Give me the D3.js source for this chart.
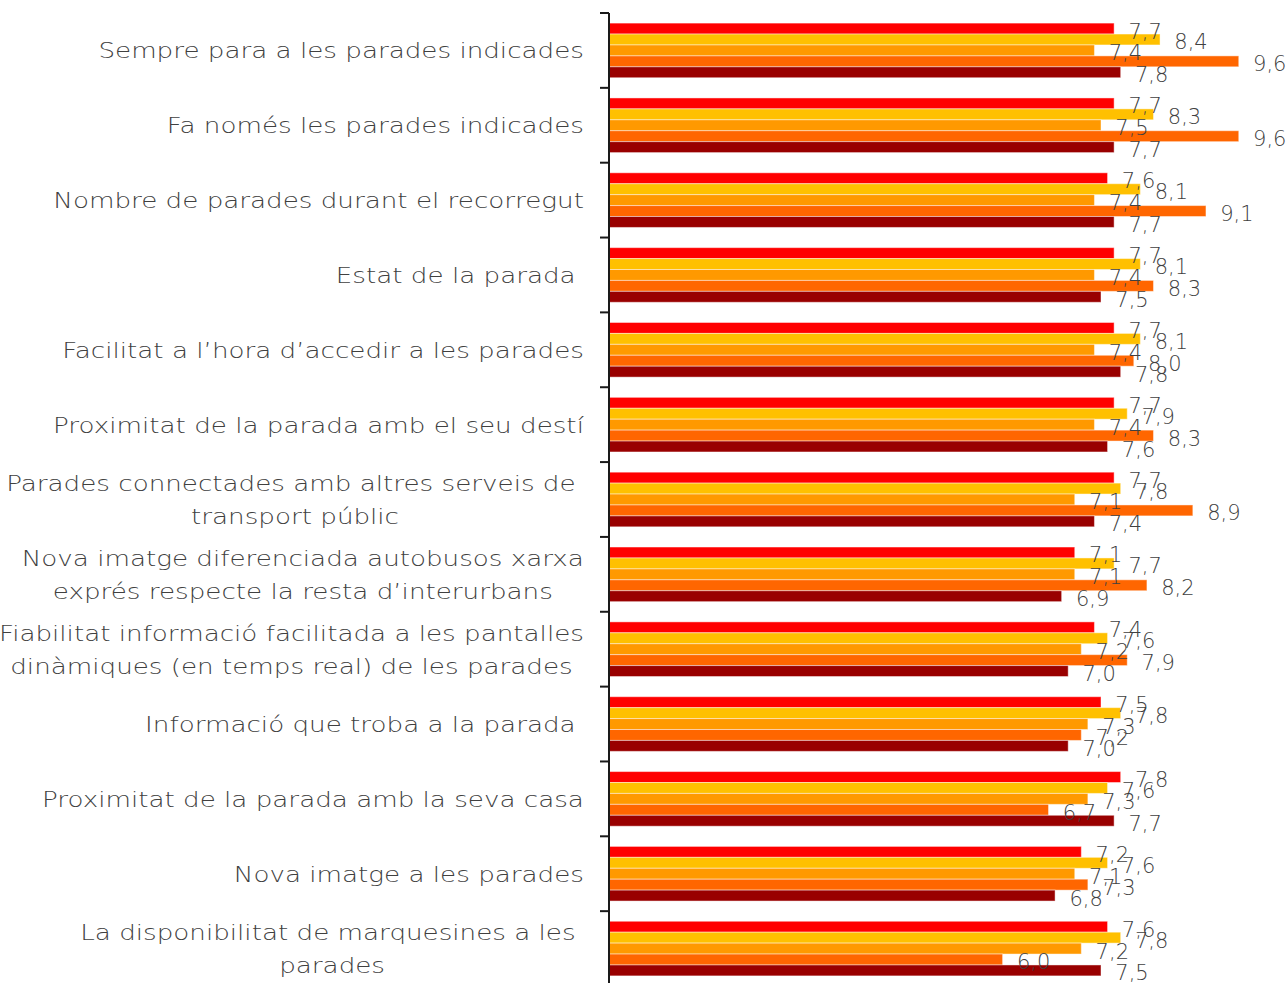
<!DOCTYPE html>
<html>
<head>
<meta charset="utf-8">
<script src="https://cdn.jsdelivr.net/npm/d3@7"></script>
<style>
  html, body { margin: 0; padding: 0; background: #fff; }
  svg text { white-space: pre; }
</style>
</head>
<body>
<svg id="chart" width="1288" height="983"></svg>
<script>
// Category labels, one array of lines per category (wrapped as shown on the axis)
const categories = [
  ["Sempre para a les parades indicades"],
  ["Fa només les parades indicades"],
  ["Nombre de parades durant el recorregut"],
  ["Estat de la parada "],
  ["Facilitat a l\u2019hora d\u2019accedir a les parades"],
  ["Proximitat de la parada amb el seu destí"],
  ["Parades connectades amb altres serveis de ", "transport públic"],
  ["Nova imatge diferenciada autobusos xarxa", "exprés respecte la resta d\u2019interurbans"],
  ["Fiabilitat informació facilitada a les pantalles", "dinàmiques (en temps real) de les parades"],
  ["Informació que troba a la parada "],
  ["Proximitat de la parada amb la seva casa"],
  ["Nova imatge a les parades"],
  ["La disponibilitat de marquesines a les ", "parades"]
];

// Scores per series (same order as categories)
const seriesA = [7.7, 7.7, 7.6, 7.7, 7.7, 7.7, 7.7, 7.1, 7.4, 7.5, 7.8, 7.2, 7.6];
const seriesB = [8.4, 8.3, 8.1, 8.1, 8.1, 7.9, 7.8, 7.7, 7.6, 7.8, 7.6, 7.6, 7.8];
const seriesC = [7.4, 7.5, 7.4, 7.4, 7.4, 7.4, 7.1, 7.1, 7.2, 7.3, 7.3, 7.1, 7.2];
const seriesD = [9.6, 9.6, 9.1, 8.3, 8.0, 8.3, 8.9, 8.2, 7.9, 7.2, 6.7, 7.3, 6.0];
const seriesE = [7.8, 7.7, 7.7, 7.5, 7.8, 7.6, 7.4, 6.9, 7.0, 7.0, 7.7, 6.8, 7.5];

const seriesValues = [seriesA, seriesB, seriesC, seriesD, seriesE];
const seriesColors = ["#FF0000", "#FFC000", "#FF9900", "#FF6600", "#990000"];

const svg = d3.select("#chart");
const fontFamily = "'DejaVu Sans', 'Open Sans', sans-serif";
const textColor = "#404040";

const axisX = 609;
const x = d3.scaleLinear().domain([0, 10]).range([axisX, axisX + 656]);

const y = d3.scaleBand()
  .domain(d3.range(categories.length))
  .range([13, 986])
  .paddingInner(0.27)
  .paddingOuter(0.135);

const ySub = d3.scaleBand()
  .domain(d3.range(seriesValues.length))
  .range([0, y.bandwidth()]);

const bandStep = y.step();
const bandTop = i => 13 + i * bandStep;

// bars
const rows = categories.map((c, i) => ({ i, values: seriesValues.map(s => s[i]) }));

const groups = svg.append("g").selectAll("g.row")
  .data(rows)
  .join("g")
  .attr("class", "row")
  .attr("transform", d => `translate(0,${y(d.i)})`);

groups.selectAll("rect")
  .data(d => d.values.map((v, k) => ({ v, k })))
  .join("rect")
  .attr("x", x(0))
  .attr("y", d => ySub(d.k))
  .attr("width", d => x(d.v) - x(0))
  .attr("height", ySub.bandwidth())
  .attr("fill", d => seriesColors[d.k])
  .attr("stroke", "rgba(255,255,255,0.45)")
  .attr("stroke-width", 1);

// value labels
const fmt = v => d3.format(".1f")(v).replace(".", ",");
groups.selectAll("text.val")
  .data(d => d.values.map((v, k) => ({ v, k })))
  .join("text")
  .attr("class", "val")
  .attr("x", d => x(d.v) + 31)
  .attr("y", d => ySub(d.k) + ySub.bandwidth() / 2 + 10)
  .attr("text-anchor", "middle")
  .attr("font-family", fontFamily)
  .attr("font-size", 21)
  .attr("font-weight", 300)
  .attr("fill", textColor)
  .text(d => fmt(d.v));

// category axis line and tick marks at band boundaries
const tickYs = d3.range(categories.length + 1).map(bandTop);
svg.append("line")
  .attr("x1", axisX).attr("x2", axisX)
  .attr("y1", tickYs[0]).attr("y2", tickYs[tickYs.length - 1])
  .attr("stroke", "#1a1a1a").attr("stroke-width", 2);
svg.append("g").selectAll("line")
  .data(tickYs)
  .join("line")
  .attr("x1", axisX - 9).attr("x2", axisX)
  .attr("y1", d => d).attr("y2", d => d)
  .attr("stroke", "#1a1a1a").attr("stroke-width", 2);

// category labels: each block right-aligned, lines centred within the block
const labelRight = 584;
const lineGap = 33;
const stretch = 1.19;
const labelG = svg.append("g");
categories.forEach((lines, i) => {
  const cy = bandTop(i) + bandStep / 2;
  const texts = lines.map((ln, j) => labelG.append("text")
    .attr("font-family", fontFamily)
    .attr("font-size", 22)
    .attr("font-weight", 300)
    .attr("fill", textColor)
    .attr("text-anchor", "middle")
    .text(ln)
    .datum(cy + (j - (lines.length - 1) / 2) * lineGap + 8));
  const maxW = d3.max(texts, t => t.node().getComputedTextLength()) * stretch;
  texts.forEach(t => t.attr("transform",
    d => `translate(${labelRight - maxW / 2},${d}) scale(${stretch},1)`));
});
</script>
</body>
</html>
